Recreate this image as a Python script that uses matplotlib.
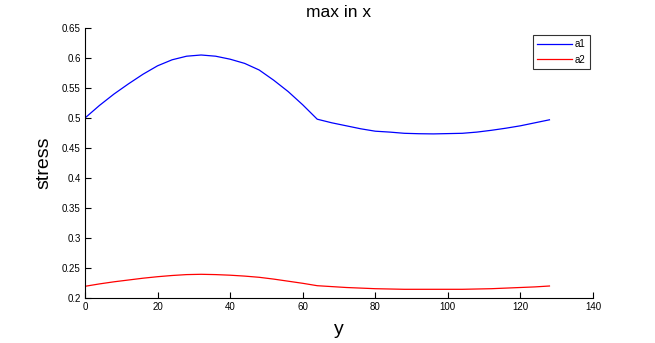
import matplotlib
matplotlib.use("Agg")
import matplotlib.pyplot as plt

x = [0, 4, 8, 12, 16, 20, 24, 28, 32, 36, 40, 44, 48, 52, 56, 60, 64,
     68, 72, 76, 80, 84, 88, 92, 96, 100, 104, 108, 112, 116, 120, 124, 128]

a1 = [0.500, 0.521, 0.540, 0.557, 0.573, 0.587, 0.597, 0.603, 0.605, 0.603,
      0.598, 0.591, 0.580, 0.563, 0.544, 0.522, 0.498, 0.492, 0.487, 0.482,
      0.478, 0.4765, 0.4745, 0.4738, 0.4735, 0.474, 0.4745, 0.4765, 0.4795,
      0.483, 0.487, 0.492, 0.497]

a2 = [0.2195, 0.2235, 0.227, 0.230, 0.233, 0.2355, 0.2375, 0.239, 0.2395,
      0.239, 0.238, 0.2365, 0.2345, 0.2315, 0.228, 0.2245, 0.2205, 0.219,
      0.2175, 0.2165, 0.2155, 0.215, 0.2145, 0.2145, 0.2145, 0.2145, 0.2145,
      0.215, 0.2155, 0.2165, 0.2175, 0.2185, 0.2200]

xticks = [0, 20, 40, 60, 80, 100, 120, 140]
yticks = [0.2, 0.25, 0.3, 0.35, 0.4, 0.45, 0.5, 0.55, 0.6, 0.65]
ytick_labels = ["0.2", "0.25", "0.3", "0.35", "0.4", "0.45", "0.5", "0.55", "0.6", "0.65"]

plt.rcParams['font.family'] = ['Liberation Sans', 'DejaVu Sans']

fig = plt.figure(figsize=(6.55, 3.43), dpi=100)
ax = fig.add_axes([85/655, 1-298/343, (593-85)/655, (298-28)/343])

ax.plot(x, a1, color='#0000ff', lw=0.9, label='a1')
ax.plot(x, a2, color='#ff0000', lw=0.9, label='a2')

ax.set_xlim(0, 140)
ax.set_ylim(0.2, 0.65)
ax.set_xticks(xticks)
ax.set_xticklabels([str(t) for t in xticks])
ax.set_yticks(yticks)
ax.set_yticklabels(ytick_labels)
ax.tick_params(direction='in', length=4, width=0.8, labelsize=7, pad=3, colors='black')
for s in ['top', 'right']:
    ax.spines[s].set_visible(False)
for s in ['left', 'bottom']:
    ax.spines[s].set_linewidth(0.8)

ax.set_title('max in x', fontsize=12.5, pad=8)
ax.set_xlabel('y', fontsize=14, labelpad=6)
ax.set_ylabel('stress', fontsize=14, labelpad=7)

leg = ax.legend(loc='upper right', bbox_to_anchor=(0.994, 0.974), fontsize=7,
                frameon=True, fancybox=False, edgecolor='black',
                handlelength=3.6, borderpad=0.45, labelspacing=0.55,
                handletextpad=0.3, borderaxespad=0)
leg.get_frame().set_linewidth(0.8)

fig.savefig('out.png', dpi=100)
